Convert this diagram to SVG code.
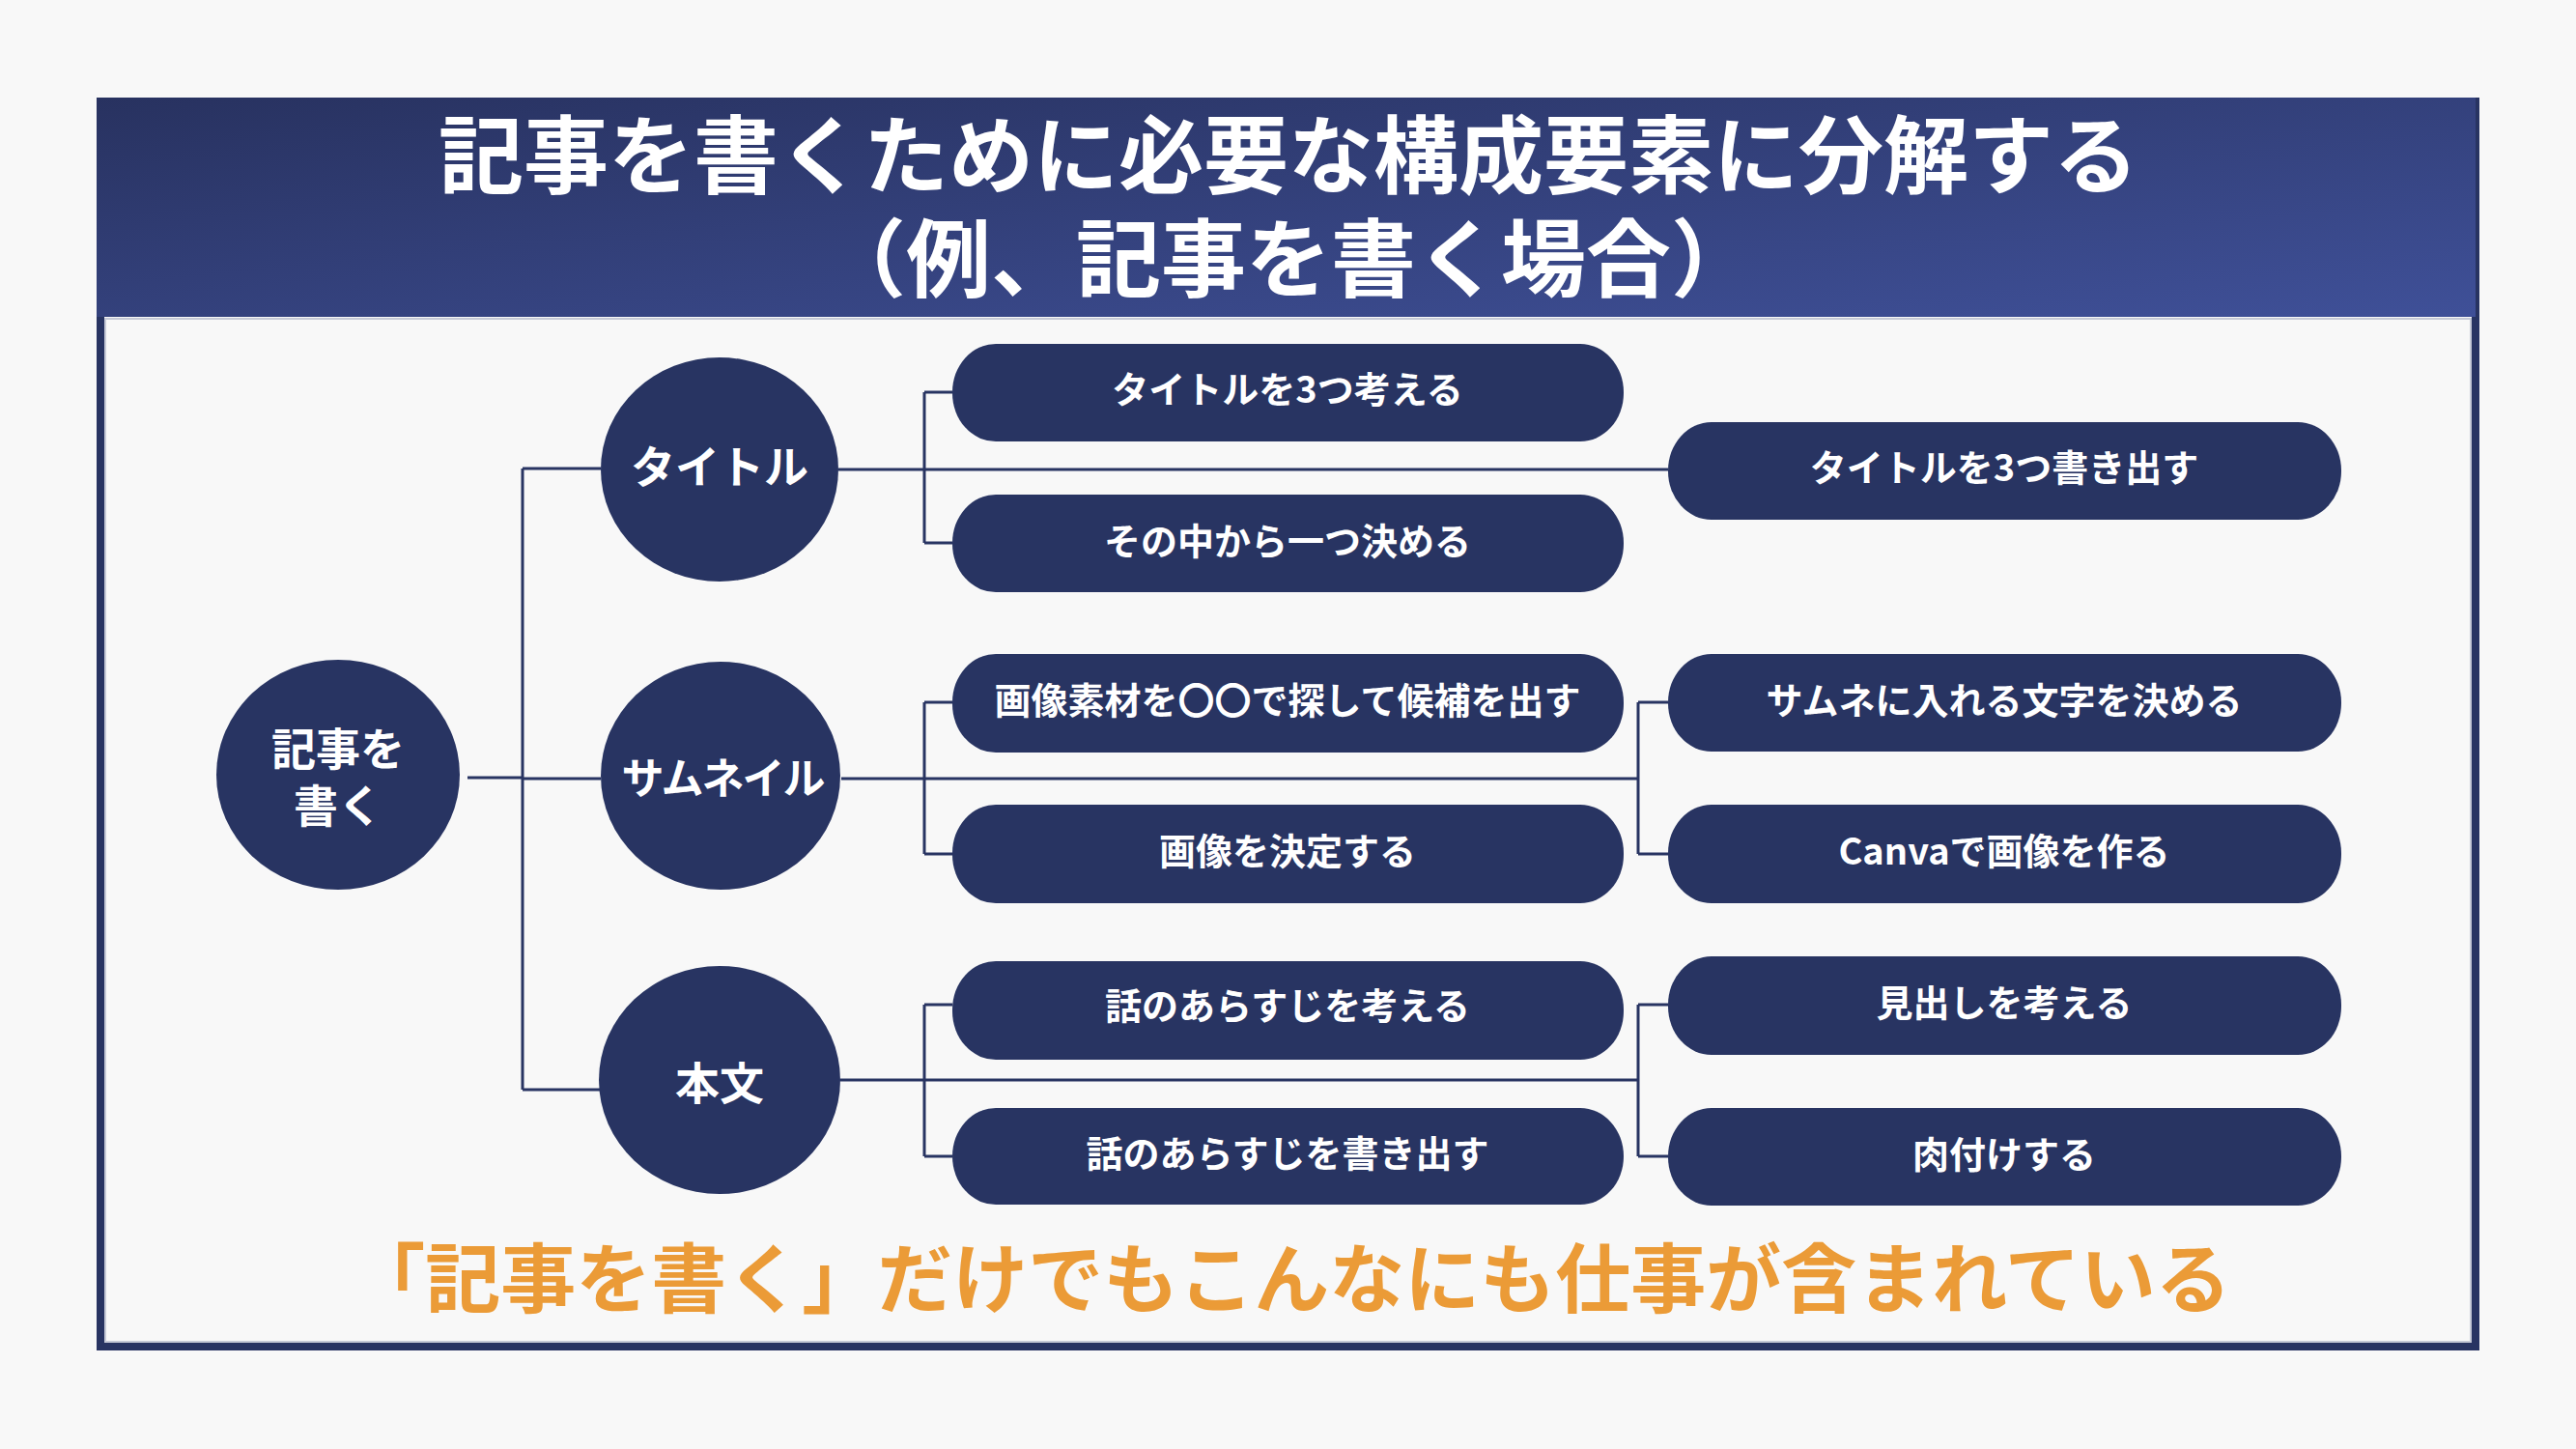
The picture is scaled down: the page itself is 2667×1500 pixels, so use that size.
<svg xmlns="http://www.w3.org/2000/svg" width="2667" height="1500" viewBox="0 0 2667 1500">
<defs>
<linearGradient id="hg" x1="0" y1="0" x2="1" y2="1">
<stop offset="0" stop-color="#283260"/>
<stop offset="1" stop-color="#3f5098"/>
</linearGradient>
<style>
.nd{fill:#283462}
.pt{font-family:"Noto Sans CJK JP","Noto Sans",sans-serif;font-weight:700;font-size:38px;fill:#ffffff;text-anchor:middle}
.ct{font-family:"Noto Sans CJK JP","Noto Sans",sans-serif;font-weight:700;font-size:46px;fill:#ffffff;text-anchor:middle}
.ln{fill:none;stroke:#283462;stroke-width:3}
.tt{font-family:"Noto Sans CJK JP","Noto Sans",sans-serif;font-weight:700;font-size:88px;fill:#ffffff;text-anchor:middle}
</style>
</defs>
<rect x="0" y="0" width="2667" height="1500" fill="#f8f8f8"/>
<g id="frame">
<rect x="104" y="105" width="2459" height="1289" fill="#f8f8f8" stroke="#283462" stroke-width="8"/>
<rect x="109" y="330" width="2449" height="1059" fill="none" stroke="#c5c9d6" stroke-width="2"/>
<rect x="100" y="101" width="2463" height="227" fill="url(#hg)"/>
<text class="tt" x="1334" y="193">記事を書くために必要な構成要素に分解する</text>
<text class="tt" x="1334" y="300">（例、記事を書く場合）</text>
</g>
<g id="connectors">
<path class="ln" d="M484,805 H541 M541,485 V1128 M541,485 H622 M541,806 H622 M541,1128 H621"/>
<path class="ln" d="M868,486 H1727 M957,406 V562 M957,406 H986 M957,562 H986"/>
<path class="ln" d="M871,806 H1696 M957,727 V884 M957,727 H986 M957,884 H986 M1696,727 V884 M1696,727 H1727 M1696,884 H1727"/>
<path class="ln" d="M870,1118 H1696 M957,1040 V1197 M957,1040 H986 M957,1197 H986 M1696,1040 V1197 M1696,1040 H1727 M1696,1197 H1727"/>
</g>
<g id="root"><ellipse class="nd" cx="350" cy="802" rx="126" ry="119"/><text class="ct" x="350" y="792">記事を</text><text class="ct" x="350" y="851">書く</text></g>
<g id="title"><ellipse class="nd" cx="745" cy="486" rx="123" ry="116"/><text class="ct" x="745" y="500">タイトル</text></g>
<g id="thumb"><ellipse class="nd" cx="746" cy="803" rx="124" ry="118"/><text class="ct" x="748" y="822" style="font-size:44px" letter-spacing="-2">サムネイル</text></g>
<g id="body"><ellipse class="nd" cx="745" cy="1118" rx="125" ry="118"/><text class="ct" x="745" y="1138">本文</text></g>
<g id="p1"><rect class="nd" x="986" y="356" width="695" height="101" rx="45" ry="50"/><text class="pt" x="1333" y="417">タイトルを3つ考える</text></g>
<g id="p2"><rect class="nd" x="986" y="512" width="695" height="101" rx="45" ry="50"/><text class="pt" x="1333" y="574">その中から一つ決める</text></g>
<g id="p3"><rect class="nd" x="1727" y="437" width="697" height="101" rx="45" ry="50"/><text class="pt" x="2075" y="498">タイトルを3つ書き出す</text></g>
<g id="p4"><rect class="nd" x="986" y="677" width="695" height="102" rx="45" ry="50"/><text class="pt" x="1333" y="739">画像素材を〇〇で探して候補を出す</text></g>
<g id="p5"><rect class="nd" x="986" y="833" width="695" height="102" rx="45" ry="50"/><text class="pt" x="1333" y="895">画像を決定する</text></g>
<g id="p6"><rect class="nd" x="1727" y="677" width="697" height="101" rx="45" ry="50"/><text class="pt" x="2075" y="739">サムネに入れる文字を決める</text></g>
<g id="p7"><rect class="nd" x="1727" y="833" width="697" height="102" rx="45" ry="50"/><text class="pt" x="2075" y="895">Canvaで画像を作る</text></g>
<g id="p8"><rect class="nd" x="986" y="995" width="695" height="102" rx="45" ry="50"/><text class="pt" x="1333" y="1055">話のあらすじを考える</text></g>
<g id="p9"><rect class="nd" x="986" y="1147" width="695" height="100" rx="45" ry="50"/><text class="pt" x="1333" y="1208">話のあらすじを書き出す</text></g>
<g id="p10"><rect class="nd" x="1727" y="990" width="697" height="102" rx="45" ry="50"/><text class="pt" x="2075" y="1052">見出しを考える</text></g>
<g id="p11"><rect class="nd" x="1727" y="1147" width="697" height="101" rx="45" ry="50"/><text class="pt" x="2075" y="1209">肉付けする</text></g>
<text x="1336" y="1353" font-family="Noto Sans CJK JP, Noto Sans, sans-serif" font-weight="700" font-size="78" fill="#eb9b37" text-anchor="middle">「記事を書く」だけでもこんなにも仕事が含まれている</text>
</svg>
